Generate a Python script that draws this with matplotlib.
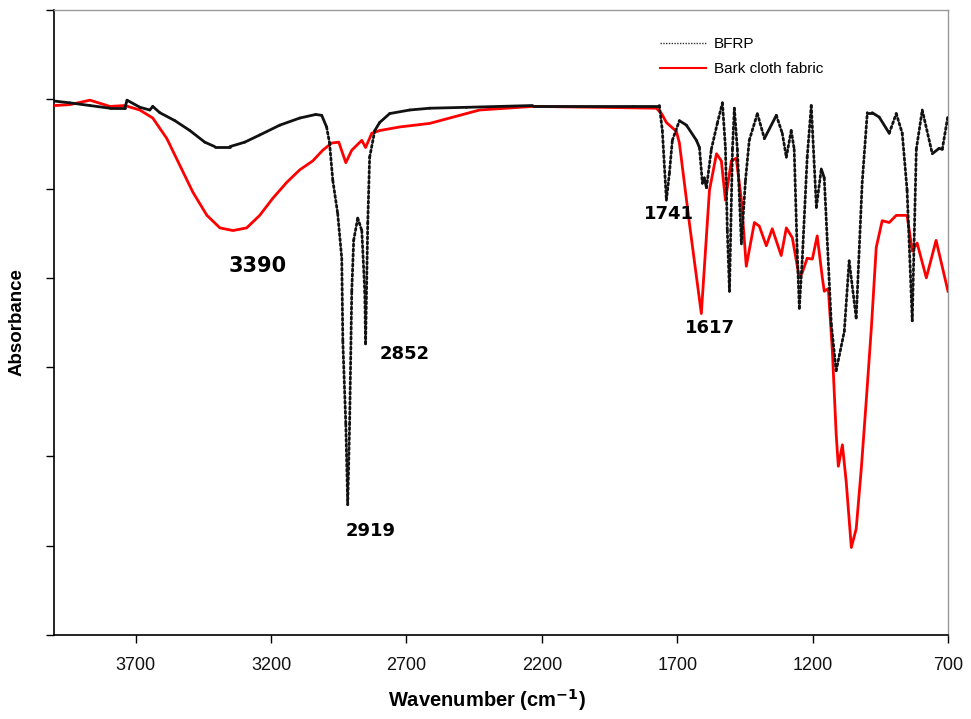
import numpy as np
import matplotlib
matplotlib.use("Agg")
import matplotlib.pyplot as plt
from matplotlib.collections import LineCollection
from matplotlib.lines import Line2D

plt.rcParams['font.family'] = ['Liberation Sans', 'DejaVu Sans']

# ---- data (wavenumber in cm-1, absorbance in arbitrary units) ----
bfrp_wn = [4000, 3943, 3869, 3795, 3740, 3732, 3684, 3648, 3637, 3611,
           3555, 3500, 3445, 3408, 3352, 3297, 3242, 3168, 3094, 3035,
           3013, 2995, 2984, 2972, 2954, 2939, 2935, 2924, 2917, 2910,
           2902, 2895, 2880, 2865, 2854, 2851, 2843, 2836, 2817, 2799,
           2762, 2688, 2614, 2478, 2234, 1865, 1766, 1755, 1740, 1729,
           1718, 1692, 1666, 1629, 1618, 1607, 1600, 1592, 1574, 1552,
           1533, 1522, 1515, 1507, 1496, 1489, 1478, 1463, 1448, 1434,
           1404, 1378, 1334, 1312, 1297, 1279, 1268, 1257, 1249, 1238,
           1220, 1205, 1186, 1168, 1157, 1131, 1113, 1083, 1065, 1039,
           1017, 998, 980, 954, 917, 891, 869, 851, 832, 817,
           795, 758, 733, 721, 700]
bfrp_abs = [5.98, 5.96, 5.93, 5.90, 5.90, 5.99, 5.91, 5.88, 5.92, 5.85,
            5.76, 5.65, 5.52, 5.47, 5.47, 5.52, 5.60, 5.71, 5.79, 5.83,
            5.82, 5.69, 5.51, 5.09, 4.72, 4.22, 3.29, 2.36, 1.46, 2.36,
            3.85, 4.42, 4.67, 4.53, 3.85, 3.26, 4.61, 5.35, 5.65, 5.74,
            5.84, 5.88, 5.90, 5.91, 5.93, 5.93, 5.93, 5.65, 4.87, 5.17,
            5.54, 5.76, 5.71, 5.54, 5.46, 5.06, 5.12, 5.01, 5.44, 5.73,
            5.96, 5.46, 4.53, 3.85, 5.44, 5.90, 5.44, 4.38, 5.09, 5.54,
            5.84, 5.56, 5.82, 5.62, 5.35, 5.65, 5.44, 4.30, 3.66, 4.22,
            5.35, 5.93, 4.79, 5.22, 5.12, 3.48, 2.96, 3.40, 4.19, 3.55,
            5.06, 5.85, 5.85, 5.80, 5.62, 5.84, 5.62, 4.98, 3.52, 5.44,
            5.88, 5.39, 5.45, 5.44, 5.82]

bark_wn = [4000, 3943, 3869, 3795, 3740, 3685, 3637, 3585, 3537, 3489,
           3437, 3389, 3341, 3290, 3242, 3194, 3142, 3094, 3046, 3009,
           2976, 2950, 2924, 2902, 2865, 2851, 2828, 2799, 2725, 2614,
           2430, 2234, 1987, 1777, 1758, 1740, 1703, 1692, 1655, 1611,
           1581, 1555, 1537, 1522, 1500, 1482, 1463, 1445, 1415, 1397,
           1371, 1349, 1316, 1297, 1275, 1249, 1238, 1220, 1201, 1183,
           1164, 1157, 1142, 1127, 1113, 1105, 1090, 1076, 1057, 1039,
           1020, 1002, 983, 965, 943, 917, 891, 851, 832, 814,
           780, 744, 700]
bark_abs = [5.93, 5.94, 5.99, 5.92, 5.93, 5.88, 5.79, 5.56, 5.26, 4.96,
            4.70, 4.56, 4.53, 4.56, 4.70, 4.89, 5.07, 5.21, 5.31, 5.43,
            5.51, 5.52, 5.29, 5.43, 5.54, 5.46, 5.62, 5.65, 5.69, 5.73,
            5.88, 5.92, 5.91, 5.90, 5.84, 5.74, 5.64, 5.51, 4.61, 3.60,
            4.98, 5.39, 5.31, 4.87, 5.31, 5.34, 4.87, 4.13, 4.62, 4.58,
            4.36, 4.55, 4.25, 4.56, 4.45, 4.00, 4.06, 4.22, 4.21, 4.47,
            4.00, 3.85, 3.88, 3.18, 2.25, 1.89, 2.13, 1.72, 0.98, 1.19,
            1.87, 2.62, 3.44, 4.34, 4.64, 4.62, 4.70, 4.70, 4.30, 4.39,
            4.00, 4.42, 3.85]

x_ticks = [3700, 3200, 2700, 2200, 1700, 1200, 700]
peak_labels = ["3390", "2919", "2852", "1741", "1617"]
peak_pos_wn = [3249, 2832, 2707, 1730, 1578]
peak_pos_y = [4.13, 1.17, 3.15, 4.72, 3.44]
peak_sizes = [15, 13, 13, 13, 13]

series_names = ["BFRP", "Bark cloth fabric"]

# ---- figure ----
fig = plt.figure(figsize=(9.71, 7.19), dpi=100)
ax = fig.add_axes([0.0561, 0.1168, 0.9202, 0.8693])

ax.set_xlim(4000, 700)
ax.set_ylim(0, 7)

# red series
ax.plot(bark_wn, bark_abs, color='#ff0000', lw=2.0, zorder=3,
        solid_joinstyle='round')

# BFRP: Excel-like dotted rendering -> steep segments dotted, flat ones solid
fig.canvas.draw()
pts = ax.transData.transform(np.column_stack([bfrp_wn, bfrp_abs]))
segs_data = np.array([[[bfrp_wn[i], bfrp_abs[i]], [bfrp_wn[i + 1], bfrp_abs[i + 1]]]
                      for i in range(len(bfrp_wn) - 1)])
steep = []
for i in range(len(bfrp_wn) - 1):
    dx = abs(pts[i + 1, 0] - pts[i, 0])
    dy = abs(pts[i + 1, 1] - pts[i, 1])
    steep.append(dy > 2.2 * max(dx, 1e-6) and dy > 12)
steep = np.array(steep)
lc_dot = LineCollection(segs_data[steep], colors='#111111', linewidths=2.0,
                        linestyles=[(0, (0.8, 1.0))], capstyle='round', zorder=4)
lc_sol = LineCollection(segs_data[~steep], colors='#111111', linewidths=2.0,
                        linestyles='solid', capstyle='round', zorder=4)
ax.add_collection(lc_dot)
ax.add_collection(lc_sol)

# axes styling
ax.set_xticks(x_ticks)
ax.set_xticklabels([str(t) for t in x_ticks], fontsize=13, color='#111111')
ax.set_yticks(np.arange(0, 8, 1))
ax.set_yticklabels([])
ax.tick_params(axis='x', direction='out', length=6, width=1.0, pad=10)
ax.tick_params(axis='y', direction='out', length=6, width=1.0)
for s in ['left', 'bottom']:
    ax.spines[s].set_color('black')
    ax.spines[s].set_linewidth(1.2)
for s in ['top', 'right']:
    ax.spines[s].set_color('#999999')
    ax.spines[s].set_linewidth(1.0)

ax.set_xlabel(r'Wavenumber (cm$^{\mathbf{-1}}$)', fontsize=14.5, fontweight='bold')
ax.xaxis.set_label_coords(0.484, -0.104)
ax.xaxis.label.set_va('center')
ax.set_ylabel('Absorbance', fontsize=13.5, fontweight='bold')
ax.yaxis.set_label_coords(-0.032, 0.50)

for lab, xw, yv, fs in zip(peak_labels, peak_pos_wn, peak_pos_y, peak_sizes):
    ax.text(xw, yv, lab, fontsize=fs, fontweight='bold', ha='center', va='center',
            family=['DejaVu Sans'], color='black', zorder=5)

handles = [Line2D([], [], color='#333333', lw=1.0, ls=(0, (1, 1))),
           Line2D([], [], color='#ff0000', lw=1.5)]
ax.legend(handles, series_names, loc='upper left', bbox_to_anchor=(0.6625, 0.979),
          frameon=False, fontsize=11, handlelength=3.0, handletextpad=0.5,
          labelspacing=0.75)

fig.savefig('out.png', dpi=100)
